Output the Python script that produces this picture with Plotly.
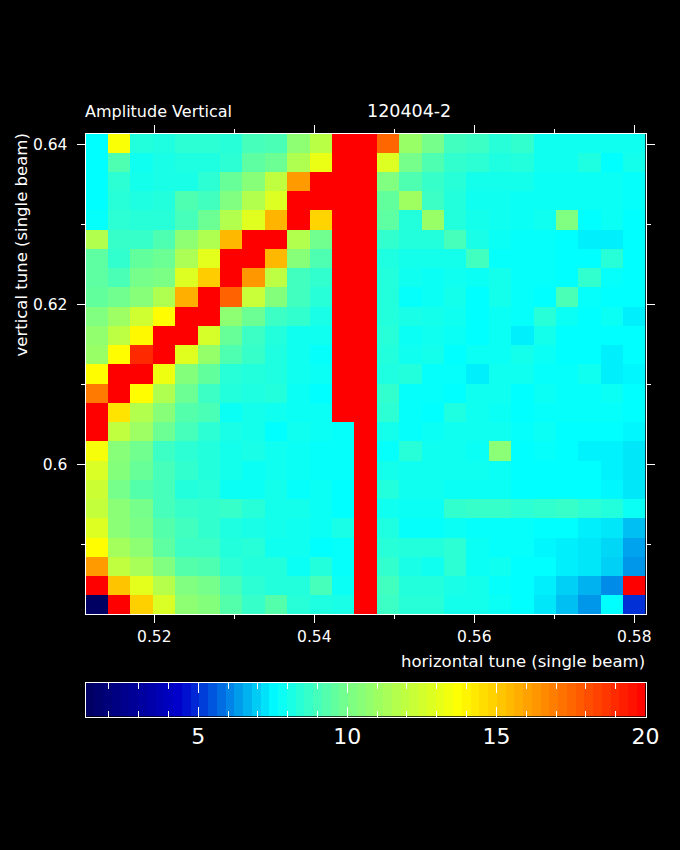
import plotly.graph_objects as go

title_left = "Amplitude Vertical"
title_right = "120404-2"
x_label = "horizontal tune (single beam)"
y_label = "vertical tune (single beam)"
x_ticks = [0.52, 0.54, 0.56, 0.58]
x_ticktext = ["0.52", "0.54", "0.56", "0.58"]
x_minor = [0.53, 0.55, 0.57]
y_ticks = [0.60, 0.62, 0.64]
y_ticktext = ["0.6", "0.62", "0.64"]
y_minor = [0.59, 0.61, 0.63]
bar_ticks = [5, 10, 15, 20]
bar_minor = [2, 3, 4, 6, 7, 8, 9, 11, 12, 13, 14, 16, 17, 18, 19]

# rows from the top of the map (highest vertical tune) to the bottom
row_00 = [7.6,13.6,8.3,8.2,8.5,8.5,8.4,9.0,9.1,10.6,11.8,20,20,17.5,10.9,10.0,8.9,8.8,8.4,8.6,7.9,7.9,7.9,7.9,7.9]
row_01 = [7.6,9.2,7.9,8.1,8.2,8.2,8.5,9.5,9.8,11.5,13.2,20,20,12.8,10.0,9.2,8.6,8.5,8.2,8.3,7.9,7.9,8.2,7.6,8.0]
row_02 = [7.6,8.5,8.0,8.1,8.1,8.5,9.7,10.4,12.0,16.2,20,20,20,10.2,9.2,8.7,8.4,8.0,8.0,8.0,7.8,7.8,7.8,7.8,7.7]
row_03 = [7.6,8.4,8.2,8.3,9.2,8.9,10.2,11.6,12.8,20,20,20,20,9.6,11.1,8.8,8.3,7.9,7.9,7.8,7.8,7.8,7.8,7.8,7.7]
row_04 = [7.7,8.5,8.4,8.4,9.0,9.8,11.6,12.9,15.6,20,14.8,20,20,9.5,8.3,10.9,8.3,8.0,7.9,7.8,7.9,10.2,7.6,7.8,7.6]
row_05 = [11.6,8.7,8.7,9.2,10.6,11.5,15.5,20,20,11.6,9.9,20,20,8.6,8.3,8.3,9.0,8.1,7.8,7.7,7.7,7.6,7.4,7.4,7.6]
row_06 = [9.5,8.6,9.6,9.8,11.4,13.0,20,20,15.5,10.4,9.2,20,20,8.2,8.0,8.0,8.0,8.9,7.7,7.7,7.7,7.6,7.6,8.4,7.6]
row_07 = [9.5,9.1,10.0,10.1,12.8,15.0,20,16.3,11.9,8.9,8.6,20,20,8.3,7.9,7.8,7.9,7.8,8.0,7.7,7.7,7.6,8.6,7.7,7.6]
row_08 = [9.6,9.9,10.4,11.5,15.7,20,17.6,12.2,10.3,8.9,8.4,20,20,8.3,7.7,7.8,8.0,7.6,8.0,7.7,7.6,9.1,7.7,7.6,7.6]
row_09 = [10.2,11.0,12.4,13.8,20,20,10.6,9.8,8.8,8.6,8.1,20,20,8.3,8.1,8.0,7.9,7.6,7.8,7.7,8.4,7.8,7.6,7.8,7.4]
row_10 = [10.7,11.9,13.9,20,20,12.6,9.7,8.8,8.3,7.9,7.9,20,20,8.4,7.8,7.9,7.8,7.6,7.8,7.4,8.0,7.6,7.6,7.6,7.6]
row_11 = [10.9,13.8,19.0,20,12.9,10.8,9.2,8.7,8.2,7.9,7.7,20,20,8.3,7.9,8.0,7.6,7.8,7.8,8.0,7.8,7.6,7.6,7.4,7.6]
row_12 = [13.8,20,20,13.3,10.3,9.6,8.4,8.3,8.2,7.9,7.8,20,20,8.2,8.3,7.7,7.7,7.4,7.9,7.9,7.7,7.7,7.9,7.4,7.5]
row_13 = [17.0,20,13.8,11.5,9.8,8.8,8.3,8.2,8.3,7.8,7.6,20,20,8.6,7.7,7.7,7.6,7.9,7.9,7.6,7.8,7.7,7.7,7.8,7.6]
row_14 = [20,14.4,11.6,10.4,9.3,9.1,7.8,8.0,7.9,7.8,7.8,20,20,8.5,7.7,7.6,8.2,7.9,7.8,7.6,7.7,7.7,7.7,7.7,7.6]
row_15 = [20,12.0,11.0,9.8,9.0,8.5,8.1,8.0,7.6,7.9,7.8,7.7,20,8.0,7.7,7.8,7.9,7.9,7.9,7.7,7.8,7.6,7.6,7.6,7.5]
row_16 = [13.5,10.4,9.9,8.8,8.5,8.3,8.0,8.1,7.9,7.8,7.7,7.7,20,7.7,8.4,7.9,7.9,7.8,10.5,7.6,7.7,7.6,7.45,7.45,7.3]
row_17 = [12.7,10.3,9.7,9.0,8.6,8.3,8.0,7.8,7.9,7.8,7.7,7.7,20,8.0,7.9,7.9,7.9,7.9,7.8,7.6,7.6,7.6,7.6,7.45,7.3]
row_18 = [12.3,10.0,9.3,9.0,8.3,8.4,7.8,7.8,8.0,7.7,7.8,7.6,20,8.3,7.9,7.9,7.8,7.8,7.8,7.6,7.6,7.6,7.6,7.5,7.3]
row_19 = [12.1,10.5,10.0,9.0,8.7,8.6,8.7,8.4,8.0,8.0,7.8,7.6,20,7.9,7.8,7.8,8.6,8.7,8.7,8.5,8.6,8.7,8.5,8.3,7.8]
row_20 = [12.8,10.5,10.1,9.3,8.9,8.6,8.2,8.1,8.0,7.9,7.8,8.1,20,8.2,7.7,7.7,7.8,7.7,7.7,7.7,7.6,7.6,7.4,7.3,6.8]
row_21 = [13.8,11.2,10.6,9.5,8.8,8.8,8.3,8.4,7.9,7.9,7.6,7.7,20,8.4,8.3,8.3,8.5,7.8,7.7,7.7,7.5,7.4,7.3,7.1,6.45]
row_22 = [16.2,12.0,11.3,10.2,9.3,9.2,8.5,8.3,8.3,7.8,8.3,7.7,20,8.6,8.1,7.9,8.5,7.8,7.9,7.6,7.6,7.4,7.3,7.0,6.3]
row_23 = [20,15.2,13.0,11.7,10.2,10.0,9.0,8.5,8.3,8.3,9.0,7.8,20,8.9,8.3,8.3,8.1,8.0,7.7,7.6,7.4,7.0,6.65,6.15,20]
row_24 = [1.3,20,14.9,12.7,10.6,10.3,9.3,8.7,9.3,8.4,8.2,8.1,20,8.8,8.4,8.4,8.0,8.0,7.8,7.6,7.3,6.8,6.3,7.6,5.0]

rows = [row_00,row_01,row_02,row_03,row_04,row_05,row_06,row_07,row_08,row_09,row_10,row_11,row_12,
        row_13,row_14,row_15,row_16,row_17,row_18,row_19,row_20,row_21,row_22,row_23,row_24]

Z_MIN, Z_MAX = 1.22, 20.0
X_RANGE = (0.5114, 0.5814)
Y_RANGE = (0.58135, 0.64135)

def stop(v):
    return (v - Z_MIN) / (Z_MAX - Z_MIN)

colorscale = [
    [0.0, "rgb(0,0,95)"],
    [stop(4.4), "rgb(0,0,205)"],
    [stop(7.6), "rgb(0,255,255)"],
    [stop(10.2), "rgb(128,255,128)"],
    [stop(13.75), "rgb(255,255,0)"],
    [1.0, "rgb(255,0,0)"],
]

n_cols, n_rows = len(row_00), len(rows)
dx = (X_RANGE[1] - X_RANGE[0]) / n_cols
dy = (Y_RANGE[1] - Y_RANGE[0]) / n_rows
x_tune = [X_RANGE[0] + (i + 0.5) * dx for i in range(n_cols)]
y_tune = [Y_RANGE[1] - (j + 0.5) * dy for j in range(n_rows)]

# legend ramp: stepped bands like the reference colour table
n_bands = 64
band_w = (Z_MAX - Z_MIN) / n_bands
bar_levels = [Z_MIN + (i + 0.5) * band_w for i in range(n_bands)]

W, H = 680, 850
FONT = "DejaVu Sans"
WHITE = "#ffffff"

fig = go.Figure()
fig.add_trace(go.Heatmap(x=x_tune, y=y_tune, z=rows, zmin=Z_MIN, zmax=Z_MAX,
                         colorscale=colorscale, showscale=False, xaxis="x", yaxis="y"))
fig.add_trace(go.Heatmap(x=bar_levels, y=[0], z=[bar_levels], zmin=Z_MIN, zmax=Z_MAX,
                         colorscale=colorscale, showscale=False, xaxis="x2", yaxis="y2"))

def axis_style(**kw):
    d = dict(showline=True, linecolor=WHITE, linewidth=1, mirror="allticks", automargin=False,
             showgrid=False, zeroline=False, tickcolor=WHITE, tickwidth=1,
             tickfont=dict(family=FONT, size=15.5, color=WHITE))
    d.update(kw)
    return d

fig.update_layout(
    width=W, height=H, autosize=False,
    margin=dict(l=0, r=0, t=0, b=0),
    paper_bgcolor="#000000", plot_bgcolor="#000000",
    showlegend=False,
    xaxis=axis_style(domain=[85.5 / W, 645.5 / W], range=list(X_RANGE), anchor="y",
                     tickmode="array", tickvals=x_ticks, ticktext=x_ticktext,
                     ticks="outside", ticklen=8,
                     minor=dict(tickmode="array", tickvals=x_minor, ticks="outside",
                                ticklen=4, tickcolor=WHITE, tickwidth=1)),
    yaxis=axis_style(domain=[1 - 614 / H, 1 - 133.5 / H], range=list(Y_RANGE), anchor="x",
                     tickmode="array", tickvals=y_ticks, ticktext=y_ticktext,
                     ticks="outside", ticklen=8, ticklabelstandoff=6,
                     minor=dict(tickmode="array", tickvals=y_minor, ticks="outside",
                                ticklen=4, tickcolor=WHITE, tickwidth=1)),
    xaxis2=axis_style(domain=[85.5 / W, 645.5 / W], range=[Z_MIN, Z_MAX], anchor="y2",
                      tickmode="array", tickvals=bar_ticks, ticktext=[str(t) for t in bar_ticks],
                      ticks="inside", ticklen=10,
                      tickfont=dict(family=FONT, size=22, color=WHITE),
                      minor=dict(tickmode="array", tickvals=bar_minor, ticks="inside",
                                 ticklen=6, tickcolor=WHITE, tickwidth=1)),
    yaxis2=axis_style(domain=[1 - 716.5 / H, 1 - 682.5 / H], range=[-0.5, 0.5], anchor="x2",
                      showticklabels=False, ticks=""),
)

def label(text, x, y, xanchor, yanchor="middle", angle=0, size=16):
    fig.add_annotation(text=text, xref="paper", yref="paper", x=x / W, y=1 - y / H,
                       xanchor=xanchor, yanchor=yanchor, textangle=angle, showarrow=False,
                       font=dict(family=FONT, size=size, color=WHITE),
                       borderpad=0, borderwidth=0)

label(title_left, 85, 111, "left")
label(title_right, 367, 111, "left", size=17.5)
label(x_label, 645, 661, "right", size=16.5)
label(y_label, 21, 134, "center", "top", -90, size=16.5)

fig.write_html("out.html",
               config={"responsive": False, "displayModeBar": False},
               post_script="document.documentElement.style.background='#000';"
                           "document.documentElement.style.overflow='hidden';"
                           "document.body.style.margin='0';"
                           "document.body.style.background='#000';")
